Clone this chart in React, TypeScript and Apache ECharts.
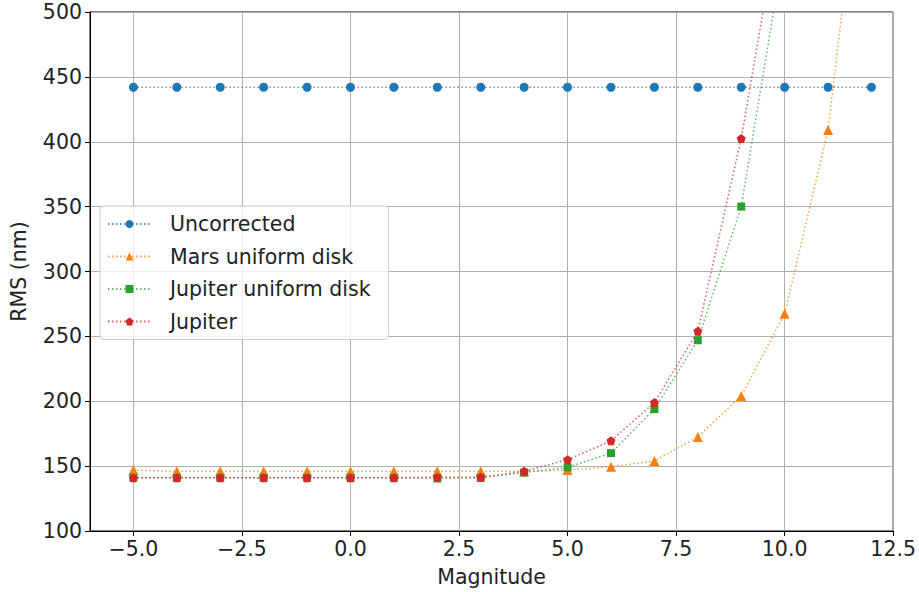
import React, { useEffect, useRef } from "react";
import * as echarts from "echarts";

const magnitudes = [-5, -4, -3, -2, -1, 0, 1, 2, 3, 4, 5, 6, 7, 8, 9, 10, 11, 12];
const uncorrected = [442, 442, 442, 442, 442, 442, 442, 442, 442, 442, 442, 442, 442, 442, 442, 442, 442, 442];
const marsUniform = [147, 146, 146, 146, 146, 146, 146, 146, 146, 146, 147, 149.5, 154, 172.5, 204, 267.5, 409, 693];
const jupiterUniform = [141, 141, 141, 141, 141, 141, 141, 140.5, 141, 145, 149, 160, 194, 247, 350, 552];
const jupiter = [141, 141, 141, 141, 141, 141, 141, 141.5, 141.5, 146, 155, 169.5, 199, 254, 402.5, 597];
const xTicks = [-5, -2.5, 0, 2.5, 5, 7.5, 10, 12.5];

const FONT = "DejaVu Sans";
const FS = 20.5;
const PENTAGON = "path://M0,-1 L0.951,-0.309 L0.588,0.809 L-0.588,0.809 L-0.951,-0.309 Z";

function pairs(ys: number[]) {
  return ys.map((y, i) => [magnitudes[i], y]);
}

export default function App() {
  const ref = useRef<HTMLDivElement>(null);
  useEffect(() => {
    if (!ref.current) return;
    const chart = echarts.init(ref.current, null, { renderer: "svg" });
    const mk = (name: string, ys: number[], color: string, symbol: string, size: number) => ({
      name,
      type: "line",
      data: pairs(ys),
      symbol,
      symbolSize: size,
      clip: true,
      itemStyle: { color },
      lineStyle: { color, width: 1.5, type: [1.5, 2.5], cap: "butt", opacity: 0.75 },
      emphasis: { disabled: true },
    });
    chart.setOption({
      animation: false,
      textStyle: { fontFamily: FONT },
      grid: {
        left: 89,
        right: 25,
        top: 12,
        bottom: 57,
        show: true,
        borderColor: "#000",
        borderWidth: 1,
        backgroundColor: "transparent",
      },
      legend: {
        orient: "vertical",
        left: 100,
        top: 206,
        backgroundColor: "rgba(255,255,255,0.8)",
        borderColor: "#cccccc",
        borderWidth: 1,
        borderRadius: 4,
        padding: [6, 18, 6, 7],
        itemWidth: 43,
        itemHeight: 10,
        itemGap: 8.5,
        textStyle: { fontSize: FS, color: "#222", fontFamily: FONT, lineHeight: 24, padding: [0, 0, 0, 14] },
        data: ["Uncorrected", "Mars uniform disk", "Jupiter uniform disk", "Jupiter"],
      },
      xAxis: {
        type: "value",
        min: -6,
        max: 12.5,
        name: "Magnitude",
        nameLocation: "middle",
        nameGap: 35,
        nameTextStyle: { fontSize: FS, color: "#222", fontFamily: FONT },
        axisLine: { show: true, onZero: false, lineStyle: { color: "#000", width: 1 } },
        axisTick: { show: true, inside: false, length: 5, lineStyle: { color: "#000" }, customValues: xTicks },
        axisLabel: {
          show: true,
          fontSize: FS,
          color: "#222",
          fontFamily: FONT,
          margin: 7,
          customValues: xTicks,
          formatter: (v: number) => (v < 0 ? "\u2212" : "") + Math.abs(v).toFixed(1),
        },
        splitLine: { show: true, lineStyle: { color: "#b0b0b0", width: 1 } },
      },
      yAxis: {
        type: "value",
        min: 100,
        max: 500,
        interval: 50,
        name: "RMS (nm)",
        nameLocation: "middle",
        nameGap: 61,
        nameTextStyle: { fontSize: FS, color: "#222", fontFamily: FONT },
        axisLine: { show: true, onZero: false, lineStyle: { color: "#000", width: 1 } },
        axisTick: { show: true, inside: false, length: 5, lineStyle: { color: "#000" } },
        axisLabel: { fontSize: FS, color: "#222", fontFamily: FONT, margin: 8 },
        splitLine: { show: true, lineStyle: { color: "#b0b0b0", width: 1 } },
      },
      series: [
        mk("Uncorrected", uncorrected, "#1f77b4", "circle", 9),
        mk("Mars uniform disk", marsUniform, "#ff7f0e", "triangle", 10),
        mk("Jupiter uniform disk", jupiterUniform, "#2ca02c", "rect", 8),
        mk("Jupiter", jupiter, "#d62728", PENTAGON, 9),
      ],
    });
    return () => chart.dispose();
  }, []);
  return <div ref={ref} style={{ width: 919, height: 592, position: "absolute", left: 0, top: 0 }} />;
}
